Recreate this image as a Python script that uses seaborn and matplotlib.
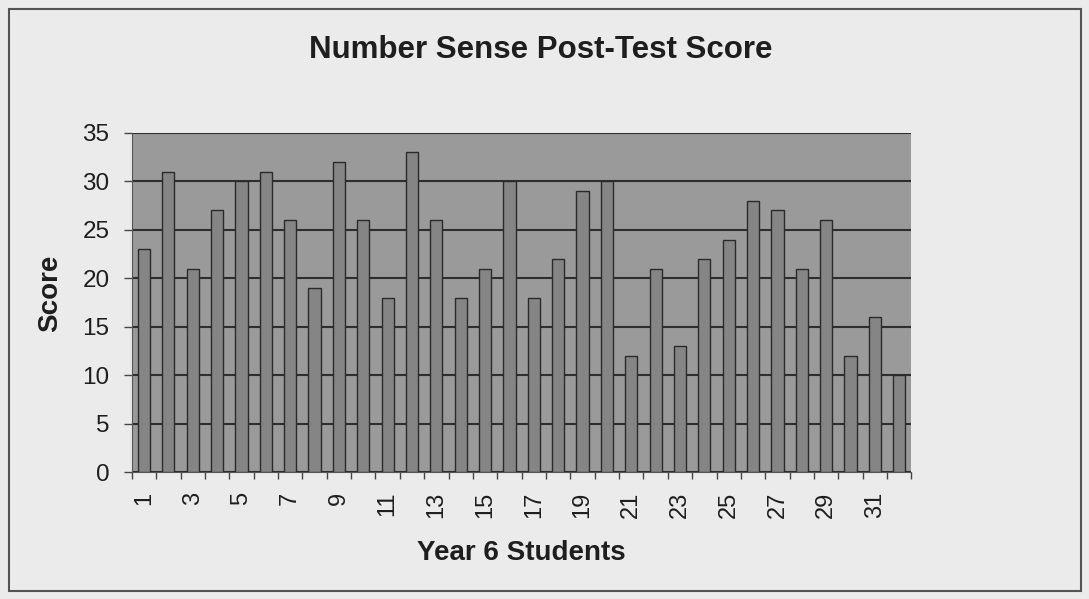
import numpy as np
import pandas as pd
import matplotlib.pyplot as plt
import seaborn as sns
from matplotlib.patches import Rectangle

# Dados
alunos = list(range(1, 33))
notas = [23, 31, 21, 27, 30, 31, 26, 19, 32, 26, 18, 33, 26, 18, 21, 30,
         18, 22, 29, 30, 12, 21, 13, 22, 24, 28, 27, 21, 26, 12, 16, 10]
rotulos_x = [str(a) if a % 2 == 1 else "" for a in alunos]

df = pd.DataFrame({"Aluno": alunos, "Score": notas})

sns.set_style("white")
plt.rcParams['font.family'] = ['Liberation Sans', 'DejaVu Sans']
plt.rcParams['text.color'] = "#1e1e1e"
plt.rcParams['axes.labelcolor'] = "#1e1e1e"
plt.rcParams['xtick.color'] = "#1e1e1e"
plt.rcParams['ytick.color'] = "#1e1e1e"

fig = plt.figure(figsize=(10.89, 5.99), dpi=100)
fig.patch.set_facecolor("#ebebeb")
ax = fig.add_axes([0.121, 0.212, 0.716, 0.566])
ax.set_facecolor("#9a9a9a")

sns.barplot(data=df, x="Aluno", y="Score", color="#858585", width=0.5,
            edgecolor="#2a2a2a", linewidth=1.0, saturation=1, ax=ax, zorder=3)

ax.set_ylim(0, 35)
ax.set_yticks(range(0, 36, 5))
ax.set_xlim(-0.5, len(alunos) - 0.5)
ax.yaxis.grid(True, color="#2e2e2e", linewidth=1.5, zorder=1)
ax.set_axisbelow(True)
ax.set_xticks(range(len(alunos)))
ax.set_xticklabels(rotulos_x, rotation=90, fontsize=17)
ax.set_xticks(np.arange(-0.5, len(alunos)), minor=True)
ax.tick_params(axis='y', labelsize=17.5, length=6, width=1, pad=10, color="#444444", left=True)
ax.tick_params(axis='x', which='major', length=0, pad=14)
ax.tick_params(axis='x', which='minor', length=5, width=1, color="#444444", bottom=True)
for s in ax.spines.values():
    s.set_visible(False)
for lado in ['left', 'bottom']:
    ax.spines[lado].set_visible(True)
    ax.spines[lado].set_color("#555555")

ax.set_xlabel("Year 6 Students", fontsize=20, fontweight="bold")
ax.set_ylabel("Score", fontsize=20, fontweight="bold")
ax.xaxis.set_label_coords(0.5, -0.2)
ax.yaxis.set_label_coords(-0.088, 0.528)
fig.text(0.497, 0.917, "Number Sense Post-Test Score", ha="center", va="center",
         fontsize=22.5, fontweight="bold")

# moldura externa
fig.patches.append(Rectangle((0.008, 0.013), 0.985, 0.972, transform=fig.transFigure,
                             fill=False, edgecolor="#555555", linewidth=1.5))

plt.savefig("out.png", dpi=100, facecolor=fig.get_facecolor())
plt.close()
